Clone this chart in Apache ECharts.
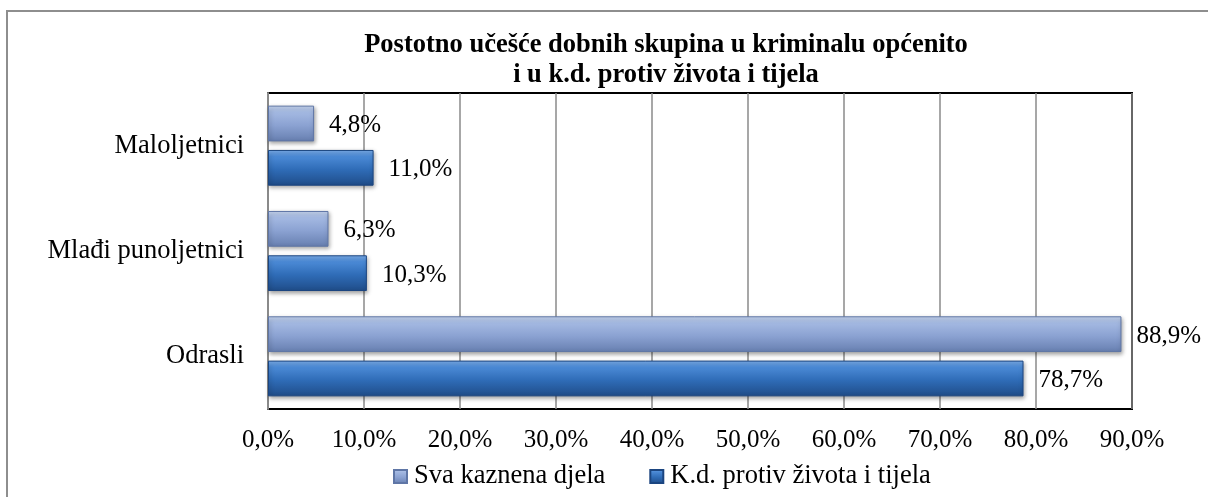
<!DOCTYPE html>
<html>
<head>
<meta charset="utf-8">
<script src="https://cdn.jsdelivr.net/npm/echarts@6/dist/echarts.min.js"></script>
<style>
  html, body { margin: 0; padding: 0; background: #fff; }
  #chart { width: 1208px; height: 497px; }
</style>
</head>
<body>
<div id="chart"></div>
<script>
// data
const categories = ["Maloljetnici", "Mlađi punoljetnici", "Odrasli"];
const seriesNames = ["Sva kaznena djela", "K.d. protiv života i tijela"];
const allCrimes = [4.8, 6.3, 88.9];
const lifeAndBody = [11.0, 10.3, 78.7];
const xTicks = { min: 0, max: 90, step: 10 };

const serif = "'Liberation Serif', 'Times New Roman', serif";
const pct = v => Number(v).toFixed(1).replace(".", ",") + "%";

const lightBar = new echarts.graphic.LinearGradient(0, 0, 0, 1, [
  { offset: 0, color: "#c9d8f2" },
  { offset: 0.18, color: "#a4b9e2" },
  { offset: 0.55, color: "#8ba2d2" },
  { offset: 1, color: "#677fb0" }
]);
const darkBar = new echarts.graphic.LinearGradient(0, 0, 0, 1, [
  { offset: 0, color: "#7db0ee" },
  { offset: 0.18, color: "#4b8ad6" },
  { offset: 0.55, color: "#2f6cb7" },
  { offset: 1, color: "#1f4c88" }
]);

const chart = echarts.init(document.getElementById("chart"));

const barLabel = {
  show: true,
  position: "right",
  distance: 15,
  offset: [0, 2],
  fontFamily: serif,
  fontSize: 25,
  color: "#000",
  formatter: p => pct(p.value)
};

const option = {
  backgroundColor: "#fff",
  animation: false,
  title: {
    text: "Postotno učešće dobnih skupina u kriminalu općenito\ni u k.d. protiv života i tijela",
    left: 666,
    top: 30,
    padding: 0,
    textAlign: "center",
    textStyle: {
      fontFamily: serif,
      fontWeight: "bold",
      fontSize: 26.5,
      lineHeight: 30,
      color: "#000"
    }
  },
  legend: {
    data: seriesNames,
    left: 388,
    top: 458,
    itemWidth: 13,
    itemHeight: 13,
    itemGap: 44,
    icon: "rect",
    textStyle: { fontFamily: serif, fontSize: 26.5, color: "#000", padding: [0, 0, 0, 2] }
  },
  grid: {
    left: 268,
    right: 76,
    top: 93,
    bottom: 88,
    show: true,
    borderColor: "#000",
    borderWidth: 2,
    containLabel: false
  },
  xAxis: {
    type: "value",
    min: xTicks.min,
    max: xTicks.max,
    interval: xTicks.step,
    axisLine: { show: false },
    axisTick: { show: false },
    splitLine: { show: true, lineStyle: { color: "#8a8a8a", width: 1.5 } },
    axisLabel: {
      margin: 19,
      fontFamily: serif,
      fontSize: 25,
      color: "#000",
      formatter: pct
    }
  },
  yAxis: {
    type: "category",
    data: categories,
    inverse: true,
    axisLine: { show: true, lineStyle: { color: "#8a8a8a", width: 2 } },
    axisTick: { show: false },
    splitLine: { show: false },
    axisLabel: {
      margin: 24,
      fontFamily: serif,
      fontSize: 26.5,
      color: "#000"
    }
  },
  series: [
    {
      name: seriesNames[0],
      type: "bar",
      data: allCrimes,
      barCategoryGap: "24%",
      barGap: "24%",
      itemStyle: {
        color: lightBar,
        borderColor: "#5f76a6",
        borderWidth: 1,
        shadowColor: "rgba(0,0,0,0.35)",
        shadowBlur: 4,
        shadowOffsetX: 1,
        shadowOffsetY: 2
      },
      label: barLabel
    },
    {
      name: seriesNames[1],
      type: "bar",
      data: lifeAndBody,
      barCategoryGap: "24%",
      barGap: "24%",
      itemStyle: {
        color: darkBar,
        borderColor: "#1b4580",
        borderWidth: 1,
        shadowColor: "rgba(0,0,0,0.35)",
        shadowBlur: 4,
        shadowOffsetX: 1,
        shadowOffsetY: 2
      },
      label: barLabel
    }
  ],
  graphic: [
    {
      type: "rect",
      silent: true,
      shape: { x: 7, y: 11, width: 1260, height: 560 },
      style: { fill: null, stroke: "#8e8e8e", lineWidth: 2 }
    }
  ]
};

chart.setOption(option);
</script>
</body>
</html>
